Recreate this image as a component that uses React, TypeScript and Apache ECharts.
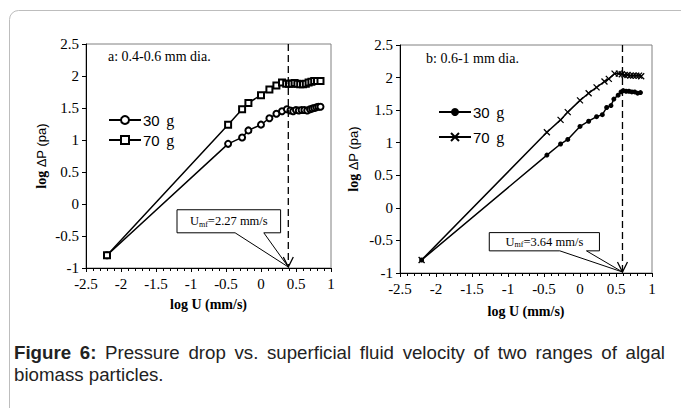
import React, { useEffect, useRef } from "react";
import * as echarts from "echarts";

// ---------- data ----------
const a30: number[][] = [
  [-2.2, -0.8], [-0.47, 0.94], [-0.27, 1.04], [-0.18, 1.15], [0, 1.24], [0.12, 1.34], [0.22, 1.41],
  [0.3, 1.45], [0.37, 1.48], [0.42, 1.46], [0.46, 1.45], [0.5, 1.47], [0.54, 1.46], [0.58, 1.47],
  [0.62, 1.47], [0.66, 1.46], [0.7, 1.48], [0.73, 1.49], [0.76, 1.5], [0.79, 1.51], [0.82, 1.52], [0.85, 1.52],
];
const a70: number[][] = [
  [-2.2, -0.8], [-0.47, 1.24], [-0.27, 1.48], [-0.18, 1.58], [0, 1.7], [0.12, 1.79], [0.22, 1.85],
  [0.3, 1.9], [0.36, 1.88], [0.4, 1.88], [0.44, 1.88], [0.48, 1.89], [0.52, 1.88], [0.56, 1.87],
  [0.6, 1.87], [0.64, 1.88], [0.68, 1.9], [0.72, 1.91], [0.76, 1.92], [0.8, 1.92], [0.85, 1.92],
];
const b30: number[][] = [
  [-2.2, -0.8], [-0.46, 0.81], [-0.27, 0.98], [-0.17, 1.05], [0, 1.25], [0.12, 1.33], [0.23, 1.4],
  [0.31, 1.43], [0.37, 1.54], [0.43, 1.57], [0.47, 1.67], [0.53, 1.73], [0.57, 1.78], [0.6, 1.8],
  [0.64, 1.79], [0.68, 1.79], [0.72, 1.78], [0.76, 1.78], [0.8, 1.76], [0.84, 1.77],
];
const b70: number[][] = [
  [-2.2, -0.8], [-0.46, 1.16], [-0.27, 1.35], [-0.17, 1.47], [0, 1.65], [0.12, 1.76], [0.23, 1.85],
  [0.34, 1.94], [0.4, 1.98], [0.48, 2.06], [0.54, 2.06], [0.58, 2.05], [0.62, 2.04], [0.66, 2.04],
  [0.7, 2.03], [0.74, 2.03], [0.78, 2.03], [0.82, 2.03], [0.85, 2.02],
];
const umfLogU = [0.39, 0.59];
const umfLabels = ["2.27", "3.64"];
const panelTitles = ["a: 0.4-0.6 mm dia.", "b: 0.6-1 mm dia."];
const massLabels = ["30", "70"];
const captionBold = "Figure 6:";
const captionLine1 = "Pressure drop vs. superficial fluid velocity of two ranges of algal";
const captionLine2 = "biomass particles.";

const SERIF = "Liberation Serif";
const SANS = "Liberation Sans";

// callout layout in data units: [x0, x1, yTop, yBottom, tailLeft, tailRight]
const calloutLayout = [
  [-1.2, 0.28, -0.09, -0.45, -0.37, 0.04],
  [-1.26, 0.27, -0.38, -0.66, -0.28, 0.09],
];

function measure(text: string, font: string): number {
  const c = document.createElement("canvas").getContext("2d")!;
  c.font = font;
  return c.measureText(text).width;
}

function captionGraphics(): any[] {
  const size = 18.7;
  const boldFont = `bold ${size}px "${SANS}"`;
  const regFont = `${size}px "${SANS}"`;
  const words: { t: string; b: boolean }[] = [
    ...captionBold.split(" ").map((t) => ({ t, b: true })),
    ...captionLine1.split(" ").map((t) => ({ t, b: false })),
  ];
  const x0 = 14, x1 = 665;
  const widths = words.map((w) => measure(w.t, w.b ? boldFont : regFont));
  const total = widths.reduce((s, v) => s + v, 0);
  const gap = (x1 - x0 - total) / (words.length - 1);
  const out: any[] = [];
  let x = x0;
  words.forEach((w, i) => {
    out.push({
      type: "text",
      x, y: 352,
      style: {
        text: w.t, font: w.b ? boldFont : regFont, fill: "#222",
        verticalAlign: "middle", align: "left",
      },
    });
    x += widths[i] + gap;
  });
  out.push({
    type: "text", x: x0, y: 374,
    style: { text: captionLine2, font: regFont, fill: "#222", verticalAlign: "middle", align: "left" },
  });
  return out;
}

const crossPath = "path://M0,0L10,10M10,0L0,10";

function makeAxis(grid: number, isX: boolean) {
  return {
    type: "value",
    gridIndex: grid,
    min: isX ? -2.5 : -1,
    max: isX ? 1 : 2.5,
    interval: 0.5,
    name: isX ? "log U (mm/s)" : "{b|log} {s|ΔP (pa)}",
    nameLocation: "middle",
    nameGap: isX ? (grid === 0 ? 29 : 31) : (grid === 0 ? 38 : 40),
    nameTextStyle: isX
      ? { fontFamily: SERIF, fontWeight: "bold", fontSize: 14, color: "#000" }
      : {
          color: "#000",
          rich: {
            b: { fontFamily: SERIF, fontWeight: "bold", fontSize: 14, color: "#000" },
            s: { fontFamily: SANS, fontSize: 13, color: "#000" },
          },
        },
    axisLine: { show: true, onZero: false, lineStyle: { color: "#000", width: 1 } },
    axisTick: { show: true, length: 4, lineStyle: { color: "#000" } },
    minorTick: isX ? { show: true, splitNumber: 5, length: 3, lineStyle: { color: "#000" } } : { show: false },
    splitLine: { show: false },
    axisLabel: { color: "#000", fontFamily: "'Liberation Serif', 'Times New Roman', serif", fontSize: 15, margin: isX ? 8 : 7 },
  };
}

function lineSeries(name: string, data: number[][], grid: number, symbol: string, size: number, borderW: number) {
  return {
    type: "line",
    name,
    xAxisIndex: grid,
    yAxisIndex: grid,
    data,
    symbol,
    symbolSize: size,
    showSymbol: true,
    color: "#000",
    lineStyle: { color: "#000", width: 1.5 },
    itemStyle: { color: "#000", borderColor: "#000", borderWidth: borderW },
    z: 3,
  };
}

function annotationSeries(grid: number) {
  const lay = calloutLayout[grid];
  return {
    type: "custom",
    xAxisIndex: grid,
    yAxisIndex: grid,
    data: [[umfLogU[grid], -1]],
    clip: false,
    z: 5,
    renderItem: (_p: any, api: any) => {
      const x = api.value(0);
      const top = api.coord([x, 2.5]);
      const bot = api.coord([x, -1]);
      const p = (a: number, b: number) => api.coord([a, b]);
      const [bx0, bx1, byT, byB, tL, tR] = lay;
      const c0 = p(bx0, byT);
      const c1 = p(bx1, byB);
      return {
        type: "group",
        children: [
          {
            type: "line",
            shape: { x1: top[0], y1: top[1], x2: bot[0], y2: bot[1] - 1 },
            style: { stroke: "#000", lineWidth: 1.3, lineDash: [7, 4] },
          },
          {
            type: "polyline",
            shape: { points: [[bot[0] - 5, bot[1] - 11], [bot[0], bot[1] - 1], [bot[0] + 5, bot[1] - 11]] },
            style: { stroke: "#000", fill: null, lineWidth: 1.3 },
          },
          {
            type: "polygon",
            shape: {
              points: [p(bx0, byT), p(bx1, byT), p(bx1, byB), p(tR, byB), [bot[0], bot[1] - 1], p(tL, byB), p(bx0, byB)],
            },
            style: { fill: "#fff", stroke: "#000", lineWidth: 1 },
          },
          {
            type: "text",
            x: (c0[0] + c1[0]) / 2,
            y: (c0[1] + c1[1]) / 2,
            style: {
              text: `{u|U}{m|mf}{u|=${umfLabels[grid]} mm/s}`,
              align: "center",
              verticalAlign: "middle",
              rich: {
                u: { fontFamily: SERIF, fontSize: 12.5, color: "#000", lineHeight: 14 },
                m: { fontFamily: SERIF, fontSize: 8, color: "#000", lineHeight: 14, verticalAlign: "bottom", padding: [5, 0, 0, 0] },
              },
            },
          },
        ],
      };
    },
  };
}

function legendFor(left: number, top: number, gap: number, names: string[]) {
  return {
    orient: "vertical",
    left,
    top,
    padding: 0,
    itemGap: gap,
    itemWidth: 32,
    itemHeight: 10,
    data: names,
    selectedMode: false,
    formatter: (name: string) => {
      const num = name.slice(0, 2);
      return `{n|${num}}  {g|g}`;
    },
    textStyle: {
      padding: [0, 0, 0, -3],
      rich: {
        n: { fontFamily: SANS, fontSize: 15, color: "#000" },
        g: { fontFamily: SERIF, fontSize: 16, color: "#000" },
      },
    },
  };
}

export default function App() {
  const ref = useRef<HTMLDivElement>(null);
  useEffect(() => {
    if (!ref.current) return;
    const chart = echarts.init(ref.current, undefined, { renderer: "svg" });
    const nA30 = `${massLabels[0]} g`, nA70 = `${massLabels[1]} g`;
    const nB30 = `${massLabels[0]} g (b)`, nB70 = `${massLabels[1]} g (b)`;
    chart.setOption({
      animation: false,
      backgroundColor: "#fff",
      grid: [
        { left: 86, top: 44, width: 245, height: 224, show: true, borderColor: "#808080", borderWidth: 1 },
        { left: 400, top: 45, width: 252, height: 228, show: true, borderColor: "#808080", borderWidth: 1 },
      ],
      xAxis: [makeAxis(0, true), makeAxis(1, true)],
      yAxis: [makeAxis(0, false), makeAxis(1, false)],
      legend: [
        legendFor(108, 112, 4, [nA30, nA70]),
        legendFor(438, 104, 9, [nB30, nB70]),
      ],
      series: [
        lineSeries(nA30, a30, 0, "emptyCircle", 6, 1.3),
        lineSeries(nA70, a70, 0, "emptyRect", 6, 1.3),
        lineSeries(nB30, b30, 1, "circle", 5, 0),
        lineSeries(nB70, b70, 1, crossPath, 6, 1.3),
        annotationSeries(0),
        annotationSeries(1),
      ],
      graphic: [
        {
          type: "rect",
          shape: { x: 9.5, y: 10.5, width: 720, height: 440, r: 9 },
          style: { fill: null, stroke: "#bdbdbd", lineWidth: 1 },
          z: 0,
        },
        {
          type: "text", x: 108, y: 56,
          style: { text: panelTitles[0], font: `14px "${SERIF}"`, fill: "#000", verticalAlign: "middle" },
        },
        {
          type: "text", x: 426, y: 58,
          style: { text: panelTitles[1], font: `14px "${SERIF}"`, fill: "#000", verticalAlign: "middle" },
        },
        ...captionGraphics(),
      ],
    });
    return () => chart.dispose();
  }, []);
  return <div ref={ref} style={{ position: "fixed", left: 0, top: 0, width: 681, height: 408 }} />;
}
